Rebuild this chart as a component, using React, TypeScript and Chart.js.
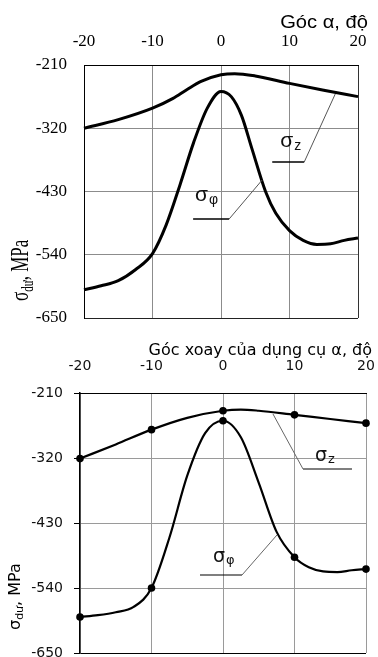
import React, { useEffect, useRef } from 'react';
import { Chart, registerables } from 'chart.js';

Chart.register(...registerables);

// ---------------- data ----------------
const angleTicks = [-20, -10, 0, 10, 20];
const stressTicks = [-650, -540, -430, -320, -210];

// upper chart (smooth curves, no markers)
const topSigmaZAngles = [-20, -15, -10, -7, -5, -3, 0, 2, 5, 10, 15, 20];
const topSigmaZValues = [-320, -305, -285, -268, -253, -239, -227, -225, -229, -242, -254, -265];

const topSigmaPhiAngles = [-20, -17.5, -15, -12.5, -10, -8, -6, -4, -2, 0, 1.5, 3, 4.5, 6.5, 8, 10, 12, 14, 16, 18, 20];
const topSigmaPhiValues = [-601, -594, -585, -566, -538, -488, -419, -345, -285, -256, -265, -298, -355, -430, -468, -498, -515, -522, -521, -515, -511];

// lower chart (curves through measured points)
const botSigmaZAngles = [-20, -15, -10, -5, 0, 2.5, 5, 10, 15, 20];
const botSigmaZValues = [-321, -297, -272, -252, -240, -238, -240, -247, -254, -261];

const botSigmaPhiAngles = [-20, -17.5, -15, -12.5, -10, -7.5, -5, -2.5, 0, 2.5, 5, 7.5, 10, 12, 14, 16, 18, 20];
const botSigmaPhiValues = [-589, -586, -581, -572, -540, -455, -350, -278, -257, -285, -362, -445, -488, -505, -512, -513, -510, -508];

const markerAngles = [-20, -10, 0, 10, 20];

// curve labels (anchor positions in data units: angle, stress)
const topNotes = [
  { main: 'σ', sub: 'z', tx: 8.64, ty: -352.6, path: [[7.48, -378.7], [12.15, -378.7], [16.68, -260.4]] },
  { main: 'σ', sub: 'φ', tx: -3.78, ty: -446.5, path: [[-4.07, -477.8], [1.19, -477.8], [6.01, -410]] },
];
const botNotes = [
  { main: 'σ', sub: 'z', tx: 12.87, ty: -325, path: [[18.04, -338.6], [11.19, -338.6], [6.99, -245.5]] },
  { main: 'σ', sub: 'φ', tx: -1.4, ty: -496, path: [[-3.22, -518], [2.66, -518], [7.55, -450.3]] },
];

const zip = (xs: number[], ys: number[]) => xs.map((x, i) => ({ x, y: ys[i] }));

// ---------------- decoration plugin ----------------
function makeDecor(cfg: any) {
  return {
    id: 'decor',
    afterDraw(chart: any) {
      const ctx = chart.ctx as CanvasRenderingContext2D;
      const xs = chart.scales.x;
      const ys = chart.scales.y;
      ctx.save();
      for (const n of cfg.notes) {
        const p = n.path.map(([a, v]: number[]) => [xs.getPixelForValue(a), ys.getPixelForValue(v)]);
        ctx.lineCap = 'butt';
        ctx.strokeStyle = '#000';
        ctx.lineWidth = cfg.underlineWidth;
        ctx.beginPath();
        ctx.moveTo(p[0][0], p[0][1]);
        ctx.lineTo(p[1][0], p[1][1]);
        ctx.stroke();
        ctx.strokeStyle = cfg.leaderColor;
        ctx.lineWidth = 1;
        ctx.beginPath();
        ctx.moveTo(p[1][0], p[1][1]);
        ctx.lineTo(p[2][0], p[2][1]);
        ctx.stroke();
        const tx = xs.getPixelForValue(n.tx);
        const ty = ys.getPixelForValue(n.ty);
        ctx.fillStyle = cfg.noteColor;
        ctx.textAlign = 'left';
        ctx.textBaseline = 'alphabetic';
        ctx.font = `${cfg.noteSize}px ${cfg.noteFamily}`;
        ctx.fillText(n.main, tx, ty);
        const w = ctx.measureText(n.main).width;
        ctx.font = `${cfg.subSize}px ${cfg.noteFamily}`;
        ctx.fillText(n.sub, tx + w + 1, ty + cfg.subShift);
      }
      // x title (right aligned)
      const t = cfg.xTitle;
      ctx.save();
      ctx.translate(t.right, t.baseline);
      ctx.scale(t.sx, 1);
      ctx.font = t.font;
      ctx.fillStyle = '#000';
      ctx.textAlign = 'right';
      ctx.textBaseline = 'alphabetic';
      ctx.fillText(t.text, 0, 0);
      ctx.restore();
      // y title (rotated, with subscript)
      const y = cfg.yTitle;
      ctx.save();
      ctx.translate(y.baseX, y.startY);
      ctx.scale(y.sx, 1);
      ctx.rotate(-Math.PI / 2);
      ctx.fillStyle = '#000';
      ctx.textAlign = 'left';
      ctx.textBaseline = 'alphabetic';
      ctx.font = `${y.size}px ${y.family}`;
      ctx.fillText('σ', 0, 0);
      let w = ctx.measureText('σ').width;
      ctx.font = `${y.subSize}px ${y.family}`;
      ctx.fillText('dư', w, y.subShift);
      w += ctx.measureText('dư').width;
      ctx.font = `${y.size}px ${y.family}`;
      ctx.fillText(', MPa', w, 0);
      ctx.restore();
      ctx.restore();
    },
  };
}

const SERIF = '"Liberation Serif", "Times New Roman", serif';
const SANS = '"DejaVu Sans", sans-serif';

// ---------------- chart builders ----------------
function buildTop(): any {
  const gridGray = '#8c8c8c';
  return {
    type: 'line',
    data: {
      datasets: [
        { data: zip(topSigmaZAngles, topSigmaZValues), borderColor: '#000', borderWidth: 3, pointRadius: 0, cubicInterpolationMode: 'monotone', fill: false, clip: false },
        { data: zip(topSigmaPhiAngles, topSigmaPhiValues), borderColor: '#000', borderWidth: 3, pointRadius: 0, cubicInterpolationMode: 'monotone', fill: false, clip: false },
      ],
    },
    options: {
      animation: false,
      responsive: false,
      events: [],
      layout: { padding: { left: 0, right: 20, top: 0, bottom: 12 } },
      plugins: { legend: { display: false }, tooltip: { enabled: false } },
      scales: {
        x: {
          type: 'linear',
          position: 'top',
          min: -20,
          max: 20,
          afterBuildTicks: (s: any) => { s.ticks = angleTicks.map((v) => ({ value: v })); },
          afterFit: (s: any) => { s.height = 65; s.paddingLeft = 0; s.paddingRight = 0; },
          grid: { color: (c: any) => (c.tick && c.tick.value === 20 ? '#333' : gridGray), lineWidth: 1, drawTicks: false },
          border: { display: true, color: '#000', width: 1 },
          ticks: { font: { family: SERIF, size: 17 }, color: '#000', padding: 13, maxRotation: 0, autoSkip: false },
        },
        y: {
          type: 'linear',
          min: -650,
          max: -210,
          afterBuildTicks: (s: any) => { s.ticks = stressTicks.map((v) => ({ value: v })); },
          afterFit: (s: any) => { s.width = 84; s.paddingTop = 0; s.paddingBottom = 0; },
          grid: { color: (c: any) => (c.tick && c.tick.value === -650 ? '#222' : gridGray), lineWidth: 1, drawTicks: false },
          border: { display: true, color: '#000', width: 1 },
          ticks: { font: { family: SERIF, size: 17 }, color: '#000', padding: 17, autoSkip: false },
        },
      },
    },
    plugins: [
      makeDecor({
        notes: topNotes,
        underlineWidth: 1.3,
        leaderColor: '#555',
        noteColor: '#111',
        noteSize: 21,
        subSize: 14,
        subShift: 3,
        noteFamily: '"Liberation Sans", Arial, sans-serif',
        xTitle: { text: 'Góc α, độ', right: 368, baseline: 28, sx: 1.12, font: '18px "Liberation Sans", Arial, sans-serif' },
        yTitle: { baseX: 28, startY: 301, sx: 1.5, size: 17, subSize: 11, subShift: 3, family: SERIF },
      }),
    ],
  };
}

function buildBottom(): any {
  const gridGray = '#9a9a9a';
  const radius = (c: any) => (c.raw && markerAngles.includes(c.raw.x) ? 3.8 : 0);
  return {
    type: 'line',
    data: {
      datasets: [
        { data: zip(botSigmaZAngles, botSigmaZValues), borderColor: '#000', borderWidth: 2.2, pointRadius: radius, pointBackgroundColor: '#000', pointBorderWidth: 0, cubicInterpolationMode: 'monotone', fill: false, clip: false },
        { data: zip(botSigmaPhiAngles, botSigmaPhiValues), borderColor: '#000', borderWidth: 2.2, pointRadius: radius, pointBackgroundColor: '#000', pointBorderWidth: 0, cubicInterpolationMode: 'monotone', fill: false, clip: false },
      ],
    },
    options: {
      animation: false,
      responsive: false,
      events: [],
      layout: { padding: { left: 0, right: 12, top: 0, bottom: 4 } },
      plugins: { legend: { display: false }, tooltip: { enabled: false } },
      scales: {
        x: {
          type: 'linear',
          position: 'top',
          min: -20,
          max: 20,
          afterBuildTicks: (s: any) => { s.ticks = angleTicks.map((v) => ({ value: v })); },
          afterFit: (s: any) => { s.height = 63; s.paddingLeft = 0; s.paddingRight = 0; },
          grid: { color: gridGray, lineWidth: 1, drawTicks: false },
          border: { display: true, color: '#000', width: 1 },
          ticks: { font: { family: SANS, size: 14 }, color: '#111', padding: 18, maxRotation: 0, autoSkip: false },
        },
        y: {
          type: 'linear',
          min: -650,
          max: -210,
          afterBuildTicks: (s: any) => { s.ticks = stressTicks.map((v) => ({ value: v })); },
          afterFit: (s: any) => { s.width = 80; s.paddingTop = 0; s.paddingBottom = 0; },
          grid: { color: (c: any) => (c.tick && c.tick.value === -650 ? '#000' : gridGray), lineWidth: 1, drawTicks: true, tickLength: 6, tickColor: '#000' },
          border: { display: true, color: '#000', width: 1.5 },
          ticks: { font: { family: SANS, size: 14 }, color: '#111', padding: 11, autoSkip: false },
        },
      },
    },
    plugins: [
      makeDecor({
        notes: botNotes,
        underlineWidth: 1.2,
        leaderColor: '#666',
        noteColor: '#111',
        noteSize: 19,
        subSize: 13,
        subShift: 2,
        noteFamily: SANS,
        xTitle: { text: 'Góc xoay của dụng cụ α, độ', right: 372, baseline: 25, sx: 1, font: '16px ' + SANS },
        yTitle: { baseX: 20, startY: 300, sx: 1, size: 16, subSize: 11, subShift: 3, family: SANS },
      }),
    ],
  };
}

function ChartCanvas({ width, height, top, build }: { width: number; height: number; top: number; build: () => any }) {
  const ref = useRef<HTMLCanvasElement>(null);
  useEffect(() => {
    const chart = new Chart(ref.current as HTMLCanvasElement, build());
    return () => chart.destroy();
  }, []);
  return (
    <canvas
      ref={ref}
      width={width}
      height={height}
      style={{ position: 'absolute', left: 0, top, width, height, display: 'block' }}
    />
  );
}

export default function App() {
  return (
    <div>
      <ChartCanvas width={378} height={330} top={0} build={buildTop} />
      <ChartCanvas width={378} height={327} top={330} build={buildBottom} />
    </div>
  );
}
